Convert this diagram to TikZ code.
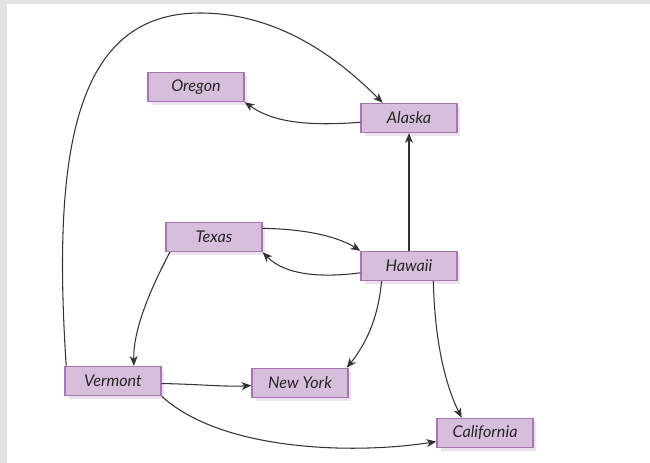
\documentclass[tikz,border=0pt]{standalone}
\usepackage{fontspec}
\setmainfont{Lato}
\usetikzlibrary{arrows.meta,shadows}
\definecolor{boxfill}{HTML}{D8BEDD}
\definecolor{boxline}{HTML}{A677AE}
\definecolor{boxshade}{HTML}{EFE0F1}
\definecolor{framegray}{HTML}{E1E2E4}
\definecolor{arcgray}{HTML}{333333}
\begin{document}
\begin{tikzpicture}[x=0.02cm, y=-0.02cm]
    \tikzstyle{state}=[rectangle, fill=boxfill, draw=boxline, line width=0.8pt,
      minimum width=1.92cm, minimum height=0.58cm, inner sep=0pt,
      font=\fontsize{9.2}{11}\selectfont\itshape, text=black!85,
      drop shadow={shadow xshift=0.07cm, shadow yshift=-0.07cm, fill=boxshade, opacity=1}]
    \tikzstyle{arc}=[draw=arcgray, line width=0.6pt, -{Stealth[length=5.5pt, width=4.5pt, inset=1.6pt]}]
    \fill[white] (0,0) rectangle (650,463);
    \useasboundingbox (0,0) rectangle (650,463);
    \fill[framegray] (0,0) rectangle (650,4);
    \fill[framegray] (0,0) rectangle (7,463);
    % states
    \node[state] (oregon) at (196,87) {Oregon};
    \node[state] (alaska) at (409,118) {Alaska};
    \node[state] (texas) at (214,237) {Texas};
    \node[state] (hawaii) at (409,266) {Hawaii};
    \node[state] (vermont) at (113,381) {Vermont};
    \node[state] (ny) at (300,383) {New York};
    \node[state] (cal) at (485,433) {California};
    % edges
    \draw[arc] (alaska.185) .. controls (300,127) and (270,120) .. (oregon.south east);
    \draw[arc] (hawaii.north) -- (alaska.south);
    \draw[arc] (texas.10) .. controls (310,229) and (340,238) .. (hawaii.north west);
    \draw[arc] (hawaii.188) .. controls (320,278) and (285,275) .. (texas.south east);
    \draw[arc] (texas.199) .. controls (150,290) and (133,330) .. (vermont.36);
    \draw[arc] (hawaii.209) .. controls (378,320) and (365,345) .. (ny.18);
    \draw[arc] (hawaii.-32) .. controls (435,350) and (448,390) .. (cal.147);
    \draw[arc] (vermont.-3) .. controls (195,384) and (225,387) .. (ny.183);
    \draw[arc] (vermont.south east) .. controls (220,450) and (350,455) .. (cal.190);
    \draw[arc] (vermont.162) .. controls (52,150) and (75,13) .. (200,13)
      .. controls (280,13) and (340,60) .. (alaska.150);
\end{tikzpicture}
\end{document}
